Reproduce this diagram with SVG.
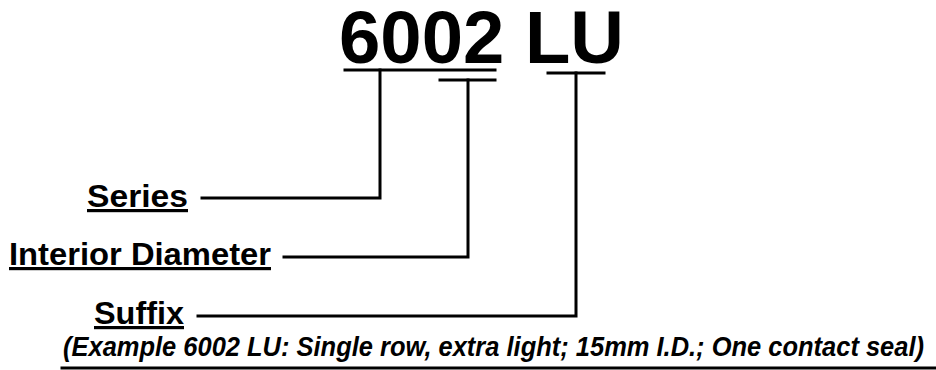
<svg xmlns="http://www.w3.org/2000/svg" width="936" height="370" viewBox="0 0 936 370">
  <style>
    .t { font-family: "Liberation Sans", Arial, sans-serif; font-weight: bold; fill: #000; }
    .lbl { font-size: 32px; text-decoration: underline; }
    .c { stroke: #000; stroke-width: 3; fill: none; stroke-linecap: square; }
  </style>
  <rect width="936" height="370" fill="#fff"/>
  <g id="title">
    <text class="t" x="339" y="63" font-size="74" textLength="285" lengthAdjust="spacingAndGlyphs">6002 LU</text>
  </g>
  <g id="series">
    <text class="t lbl" x="87" y="207" textLength="101" lengthAdjust="spacingAndGlyphs">Series</text>
  </g>
  <g id="interior-diameter">
    <text class="t lbl" x="9" y="265" textLength="262" lengthAdjust="spacingAndGlyphs">Interior Diameter</text>
  </g>
  <g id="suffix">
    <text class="t lbl" x="94" y="324" textLength="90" lengthAdjust="spacingAndGlyphs">Suffix</text>
  </g>
  <g id="example">
    <text class="t" x="63" y="356" font-size="27" font-style="italic" textLength="861" lengthAdjust="spacingAndGlyphs">(Example 6002 LU: Single row, extra light; 15mm I.D.; One contact seal)</text>
  </g>
  <g id="connectors">
    <polyline class="c" points="345,70 495,70"/>
    <polyline class="c" points="380,70 380,198 202,198"/>
    <polyline class="c" points="440,80 495,80"/>
    <polyline class="c" points="468,80 468,257 284,257"/>
    <polyline class="c" points="548,73 604,73"/>
    <polyline class="c" points="576,73 576,316 198,316"/>
    <line class="c" x1="62" y1="368" x2="936" y2="368" stroke-linecap="butt"/>
  </g>
</svg>
